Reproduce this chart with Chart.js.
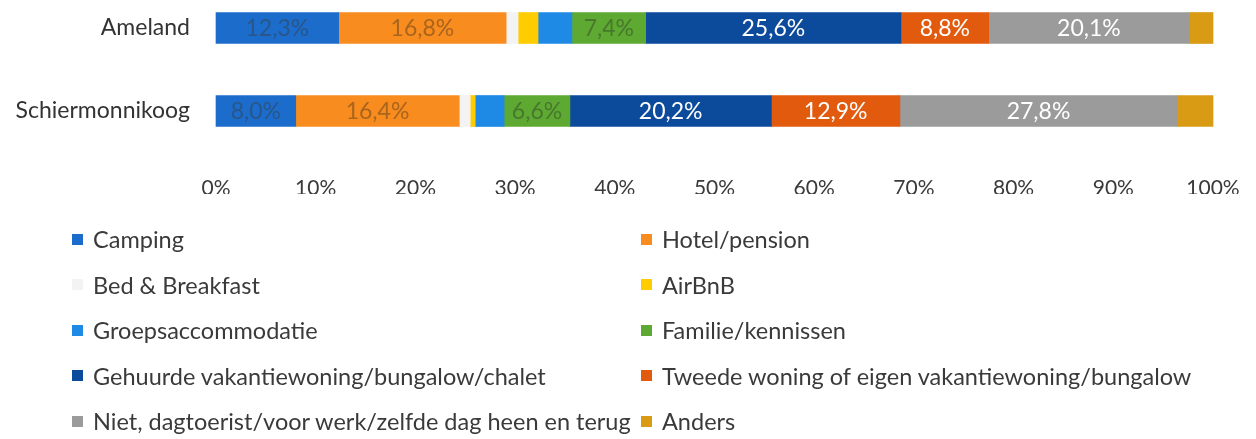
<!DOCTYPE html>
<html>
<head>
<meta charset="utf-8">
<script src="https://cdn.jsdelivr.net/npm/chart.js@4/dist/chart.umd.min.js"></script>
<style>
  body { margin: 0; background: #fff; font-family: 'Lato', sans-serif; }
  #wrap { position: relative; width: 1256px; height: 439px; }
  #box { position: absolute; left: 0; top: 0; width: 1256px; height: 210px; }
  #legend { position: absolute; left: 0; top: 0; width: 1256px; height: 439px; }
  .item { position: absolute; display: flex; align-items: center; font-size: 23.5px; color: #3a3a3a; white-space: nowrap; }
  .item span.sw { width: 11px; height: 11px; margin-right: 10px; display: inline-block; }
</style>
</head>
<body>
<div id="wrap">
  <div id="box"><canvas id="chart"></canvas></div>
  <div id="legend"></div>
</div>
<script>
const categories = ['Ameland', 'Schiermonnikoog'];
const types = [
  'Camping', 'Hotel/pension', 'Bed & Breakfast', 'AirBnB', 'Groepsaccommodatie',
  'Familie/kennissen', 'Gehuurde vakantiewoning/bungalow/chalet',
  'Tweede woning of eigen vakantiewoning/bungalow',
  'Niet, dagtoerist/voor werk/zelfde dag heen en terug', 'Anders'
];
const ameland = [12.3, 16.8, 1.2, 2.0, 3.4, 7.4, 25.6, 8.8, 20.1, 2.4];
const schier  = [8.0, 16.4, 1.1, 0.5, 2.9, 6.6, 20.2, 12.9, 27.8, 3.6];
const colors = ['#1b6ccb', '#f98c1e', '#f3f3f3', '#ffcc00', '#1f8ae6',
                '#5ea932', '#0c4a9c', '#e25a0e', '#9b9b9b', '#d99a14'];
// which segments carry a value label, and in what colour
const showLabel = [true, true, false, false, false, true, true, true, true, false];
const labelColor = ['rgba(60,60,60,0.45)', 'rgba(90,60,30,0.5)', '', '', '',
                    'rgba(50,70,40,0.5)', '#ffffff', '#ffffff', '#ffffff', ''];

const barLabels = {
  id: 'barLabels',
  afterDatasetsDraw(chart) {
    const ctx = chart.ctx;
    ctx.save();
    ctx.font = '23px Lato';
    ctx.textAlign = 'center';
    ctx.textBaseline = 'middle';
    chart.data.datasets.forEach((ds, i) => {
      if (!showLabel[i]) return;
      const meta = chart.getDatasetMeta(i);
      meta.data.forEach((el, j) => {
        const p = el.getProps(['x', 'base', 'y'], true);
        ctx.fillStyle = labelColor[i];
        ctx.fillText(ds.data[j].toFixed(1).replace('.', ',') + '%', (p.x + p.base) / 2, p.y + 1);
      });
    });
    ctx.restore();
  }
};

const datasets = types.map((t, i) => ({
  label: t,
  data: [ameland[i], schier[i]],
  backgroundColor: colors[i],
  barThickness: 31,
  clip: false
}));

const chart = new Chart(document.getElementById('chart'), {
  type: 'bar',
  data: { labels: categories, datasets: datasets },
  options: {
    indexAxis: 'y',
    responsive: true,
    maintainAspectRatio: false,
    animation: false,
    layout: { padding: { top: 28, right: 43, bottom: 16, left: 0 } },
    plugins: { legend: { display: false }, tooltip: { enabled: false } },
    scales: {
      x: {
        stacked: true,
        min: 0,
        max: 100,
        // invisible tick marks give the gap between bars and tick labels
        grid: { display: false, drawTicks: true, tickLength: 63 },
        border: { display: false },
        ticks: {
          stepSize: 10,
          padding: 2,
          color: '#3a3a3a',
          font: { family: 'Lato', size: 21 },
          callback: v => v + '%'
        }
      },
      y: {
        stacked: true,
        offset: false,
        grid: { display: false, drawTicks: true, tickLength: 26 },
        border: { display: false },
        ticks: { padding: 0, color: '#333', font: { family: 'Lato', size: 23 } },
        afterFit: s => { s.width = 216; }
      }
    }
  },
  plugins: [barLabels]
});

// two-column legend below the chart, built from the datasets
const legend = document.getElementById('legend');
chart.data.datasets.forEach((ds, i) => {
  const col = i % 2, row = Math.floor(i / 2);
  const d = document.createElement('div');
  d.className = 'item';
  d.style.left = (col === 0 ? 72 : 641) + 'px';
  d.style.top = (225 + row * 45.5) + 'px';
  d.innerHTML = '<span class="sw" style="background:' + ds.backgroundColor + '"></span>' + ds.label;
  legend.appendChild(d);
});
</script>
</body>
</html>
